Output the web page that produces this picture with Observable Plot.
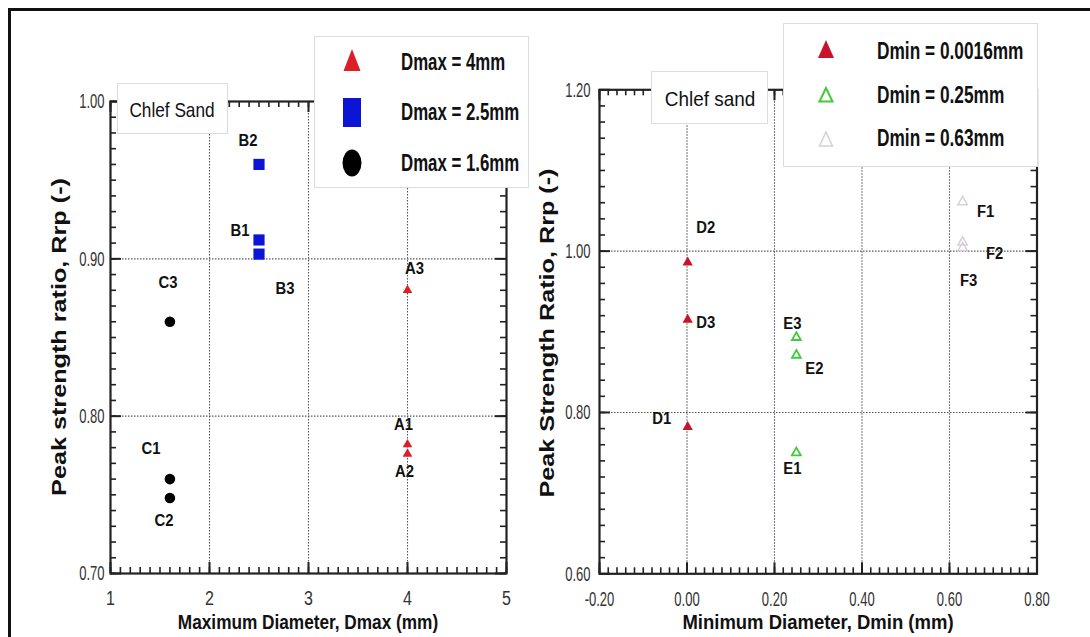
<!DOCTYPE html>
<html>
<head>
<meta charset="utf-8">
<script src="https://cdn.jsdelivr.net/npm/d3@7"></script>
<script src="https://cdn.jsdelivr.net/npm/@observablehq/plot@0.6"></script>
<style>
  html, body { margin: 0; padding: 0; background: #fff; }
  #figure { position: relative; width: 1090px; height: 637px; overflow: hidden; background: #fff;
            font-family: "Liberation Sans", Arial, Helvetica, sans-serif; }
  .holder { position: absolute; top: 0; }
  .rule { position: absolute; background: #111; }
  .box { position: absolute; box-sizing: border-box; background: #fff; border: 1px solid #dcdcdc; }
  .txt { position: absolute; white-space: nowrap; line-height: 1; color: #111; }
  .glyphs { position: absolute; left: 0; top: 0; overflow: visible; }
</style>
</head>
<body>
<div id="figure"></div>
<script>
// ---- Chlef sand: peak strength ratio Rrp against grading limits ----

// Panel 1: maximum diameter series
const dmaxSeries = ["Dmax = 4mm", "Dmax = 2.5mm", "Dmax = 1.6mm"];
const dmaxValues = [4, 2.5, 1.6];
const dmaxSamples = [["A1", "A2", "A3"], ["B1", "B2", "B3"], ["C1", "C2", "C3"]];
const dmaxRrp = [[0.782, 0.776, 0.880], [0.912, 0.960, 0.903], [0.760, 0.748, 0.860]];
const dmaxTicksX = [1, 2, 3, 4, 5];
const dmaxTicksY = [0.70, 0.80, 0.90, 1.00];

// Panel 2: minimum diameter series
const dminSeries = ["Dmin = 0.0016mm", "Dmin = 0.25mm", "Dmin = 0.63mm"];
const dminValues = [0.0016, 0.25, 0.63];
const dminSamples = [["D1", "D2", "D3"], ["E1", "E2", "E3"], ["F1", "F2", "F3"]];
const dminRrp = [[0.782, 0.986, 0.915], [0.750, 0.871, 0.893], [1.061, 1.011, 1.004]];
const dminTicksX = [-0.20, 0.00, 0.20, 0.40, 0.60, 0.80];
const dminTicksY = [0.60, 0.80, 1.00, 1.20];

// Text
const dmaxXTitle = "Maximum Diameter, Dmax (mm)";
const dmaxYTitle = "Peak strength ratio, Rrp (-)";
const dminXTitle = "Minimum Diameter, Dmin (mm)";
const dminYTitle = "Peak Strength Ratio, Rrp (-)";
const dmaxTag = "Chlef Sand";
const dminTag = "Chlef sand";

// Sample-label nudges (px) around each point
const labelNudge = {
  A1: [-4, -20], A2: [-3, 18], A3: [7, -22],
  B1: [-19, -9], B2: [-11, -24], B3: [26, 35],
  C1: [-19, -30], C2: [-6, 23], C3: [-2, -39],
  D1: [-26, -8], D2: [18, -35], D3: [18, 3],
  E1: [-4, 16], E2: [18, 14], E3: [-4, -14],
  F1: [23, 10], F2: [32, 11], F3: [6, 33]
};

// Marker styles per series
const dmaxStyles = [
  {symbol: "triangle", fill: "#dc1f26", r: 3.6},
  {symbol: "square", fill: "#0c14d6", r: 6.3},
  {symbol: "circle", fill: "#000", r: 5.3}
];
const dminStyles = [
  {symbol: "triangle", fill: "#c8142a", r: 3.8},
  {symbol: "triangle", fill: "none", stroke: "#43c93a", strokeWidth: 1.8, r: 3.3},
  {symbol: "triangle", fill: "none", stroke: "#d6cfd9", strokeWidth: 1.5, r: 3.5}
];

const fig = document.getElementById("figure");
const ink = "#222";

function toRows(series, values, samples, rrp) {
  return series.map((s, k) => samples[k].map((id, j) => ({series: s, id, d: values[k], rrp: rrp[k][j]})));
}

// Size SVG text and condense it horizontally about its anchor point
function styleText(root, selector, size, k, weight) {
  root.querySelectorAll(selector).forEach((t) => {
    t.style.fontSize = size + "px";
    if (weight) t.style.fontWeight = weight;
    const tr = t.getAttribute("transform") || "";
    t.setAttribute("transform", `${tr} scale(${k},1)`);
  });
}

function panel(cfg) {
  const W = 545, H = 637;
  const m = cfg.margin;
  const iw = W - m.left - m.right, ih = H - m.top - m.bottom;
  // inward ticks on all four sides of the frame
  const ticks = (xs, ys, len, w) => [
    Plot.ruleX(xs, {x: (d) => d, insetTop: ih - len, stroke: ink, strokeWidth: w}),
    Plot.ruleX(xs, {x: (d) => d, insetBottom: ih - len, stroke: ink, strokeWidth: w}),
    Plot.ruleY(ys, {y: (d) => d, insetRight: iw - len, stroke: ink, strokeWidth: w}),
    Plot.ruleY(ys, {y: (d) => d, insetLeft: iw - len, stroke: ink, strokeWidth: w})
  ];
  const dots = cfg.groups.map((rows, k) =>
    Plot.dot(rows, {x: "d", y: "rrp", ...cfg.styles[k]})
  );
  const labels = cfg.groups.flat().map((row) =>
    Plot.text([row], {
      x: "d", y: "rrp", text: "id",
      dx: labelNudge[row.id][0], dy: labelNudge[row.id][1],
      fill: "#111"
    })
  );
  const svg = Plot.plot({
    width: W, height: H,
    marginLeft: m.left, marginRight: m.right, marginTop: m.top, marginBottom: m.bottom,
    style: {fontFamily: '"Liberation Sans", Arial, sans-serif', color: "#333", background: "transparent", overflow: "visible"},
    x: {domain: cfg.xDomain},
    y: {domain: cfg.yDomain},
    marks: [
      Plot.ruleX(cfg.xGrid, {x: (d) => d, stroke: "#555", strokeDasharray: "1.5,1.5", strokeWidth: 1.1}),
      Plot.ruleY(cfg.yGrid, {y: (d) => d, stroke: "#555", strokeDasharray: "1.5,1.5", strokeWidth: 1.1}),
      ...ticks(cfg.xMinor, cfg.yMinor, 6, 1.6),
      ...ticks(cfg.xMajor, cfg.yMajor, 11, 2),
      Plot.frame({stroke: ink, strokeWidth: 2.2}),
      Plot.axisX(cfg.xMajor, {tickSize: 0, tickPadding: 17, tickFormat: cfg.fmtX, label: null}),
      Plot.axisY(cfg.yMajor, {tickSize: 0, tickPadding: cfg.yPad, tickFormat: (d) => d.toFixed(2), label: null}),
      ...dots,
      ...labels
    ]
  });
  styleText(svg, '[aria-label="y-axis tick label"] text', 21, 0.62);
  styleText(svg, '[aria-label="x-axis tick label"] text', cfg.xFont, cfg.xSqueeze);
  styleText(svg, '[aria-label="text"] text', 16.5, 0.9, "bold");
  const holder = document.createElement("div");
  holder.className = "holder";
  holder.style.left = cfg.left + "px";
  holder.appendChild(svg);
  fig.appendChild(holder);
}

// Left panel: Rrp vs Dmax
panel({
  left: 0,
  margin: {left: 110, right: 39, top: 101, bottom: 64},
  groups: toRows(dmaxSeries, dmaxValues, dmaxSamples, dmaxRrp),
  styles: dmaxStyles,
  xDomain: [1, 5], yDomain: [0.7, 1.0],
  xMajor: dmaxTicksX, yMajor: dmaxTicksY,
  xMinor: d3.ticks(1, 5, 40), yMinor: d3.ticks(0.7, 1.0, 30),
  xGrid: dmaxTicksX.slice(1, -1), yGrid: dmaxTicksY.slice(1, -1),
  fmtX: (d) => String(d), xFont: 20, xSqueeze: 0.8, yPad: 6
});

// Right panel: Rrp vs Dmin
panel({
  left: 545,
  margin: {left: 54, right: 53.5, top: 89.3, bottom: 63.7},
  groups: toRows(dminSeries, dminValues, dminSamples, dminRrp),
  styles: dminStyles,
  xDomain: [-0.2, 0.8], yDomain: [0.6, 1.2],
  xMajor: dminTicksX, yMajor: dminTicksY,
  xMinor: d3.ticks(-0.2, 0.8, 50), yMinor: d3.ticks(0.6, 1.2, 30),
  xGrid: dminTicksX.slice(1, -1), yGrid: dminTicksY.slice(1, -1),
  fmtX: (d) => d.toFixed(2), xFont: 21, xSqueeze: 0.62, yPad: 9
});

// Outer figure border (left and top edges)
function rule(x, y, w, h) {
  const el = document.createElement("div");
  el.className = "rule";
  Object.assign(el.style, {left: x + "px", top: y + "px", width: w + "px", height: h + "px"});
  fig.appendChild(el);
}
rule(8, 8, 2.5, 640);
rule(8, 8, 1090, 2.5);

function box(x, y, w, h) {
  const el = document.createElement("div");
  el.className = "box";
  Object.assign(el.style, {left: x + "px", top: y + "px", width: w + "px", height: h + "px"});
  fig.appendChild(el);
}

function text(str, x, y, o) {
  const el = document.createElement("div");
  el.className = "txt";
  el.textContent = str;
  el.style.left = x + "px";
  el.style.top = y + "px";
  el.style.fontSize = o.size + "px";
  el.style.fontWeight = o.weight || "normal";
  const start = o.anchor === "start";
  el.style.transformOrigin = start ? "0 50%" : "50% 50%";
  el.style.transform = `translate(${start ? "0" : "-50%"},-50%)` +
    (o.rotate ? ` rotate(${o.rotate}deg)` : "") + ` scale(${o.sx || 1},1)`;
  fig.appendChild(el);
}

// Sand tags and legend boxes
box(117, 83, 111, 51);
box(651, 71, 117, 53);
box(314, 36, 215, 152);
box(783, 23, 255, 144);

// Legend glyphs
const NS = "http://www.w3.org/2000/svg";
const glyphs = document.createElementNS(NS, "svg");
glyphs.setAttribute("class", "glyphs");
glyphs.setAttribute("width", 1090);
glyphs.setAttribute("height", 637);
glyphs.innerHTML = `
  <polygon points="352,49 343.5,71 360.5,71" fill="${dmaxStyles[0].fill}"/>
  <rect x="343" y="98" width="18" height="29" fill="${dmaxStyles[1].fill}"/>
  <ellipse cx="352" cy="163" rx="9.5" ry="13.5" fill="${dmaxStyles[2].fill}"/>
  <polygon points="826,40 818,58 834,58" fill="${dminStyles[0].fill}"/>
  <polygon points="826,88 819.5,101.5 832.5,101.5" fill="none" stroke="${dminStyles[1].stroke}" stroke-width="2"/>
  <polygon points="826,132 819.5,146 832.5,146" fill="none" stroke="${dminStyles[2].stroke}" stroke-width="1.5"/>
`;
fig.appendChild(glyphs);

// Legend entries
[62, 112, 163].forEach((y, i) => text(dmaxSeries[i], 401, y, {size: 24, weight: "bold", sx: 0.7, anchor: "start"}));
[51, 95, 138].forEach((y, i) => text(dminSeries[i], 877, y, {size: 24, weight: "bold", sx: 0.72, anchor: "start"}));

// Sand tags
text(dmaxTag, 172, 109, {size: 21, sx: 0.82});
text(dminTag, 710, 98, {size: 21, sx: 0.9});

// Axis titles
text(dmaxXTitle, 308, 621, {size: 21, weight: "bold", sx: 0.82});
text(dminXTitle, 818, 621, {size: 21, weight: "bold", sx: 0.88});
text(dmaxYTitle, 58, 337, {size: 21, weight: "bold", rotate: -90, sx: 1.2});
text(dminYTitle, 546, 333, {size: 21, weight: "bold", rotate: -90, sx: 1.2});
</script>
</body>
</html>
